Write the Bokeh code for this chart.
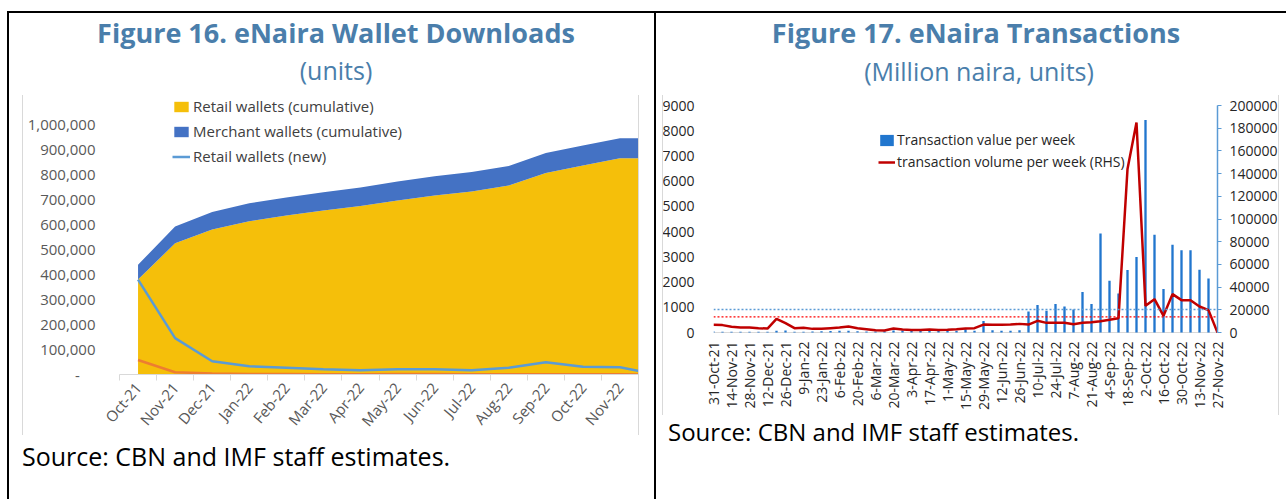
from bokeh.plotting import figure
from bokeh.models import (Range1d, LinearAxis, FixedTicker, Legend, LegendItem,
                          Span, Div, ColumnDataSource, NumeralTickFormatter)
from bokeh.layouts import row, column
from bokeh.embed import file_html
from bokeh.resources import INLINE

FONT = "Open Sans"
TITLE_BLUE = "#4A7EAB"

# ---------------- Figure 16 data (monthly, units) ----------------
months = ["Oct-21", "Nov-21", "Dec-21", "Jan-22", "Feb-22", "Mar-22", "Apr-22",
          "May-22", "Jun-22", "Jul-22", "Aug-22", "Sep-22", "Oct-22", "Nov-22", "Dec-22"]
shown_months = 14
retail_cum = [378000, 523000, 578000, 611000, 633000, 653000, 671000,
              693000, 713000, 729000, 753000, 803000, 833000, 862000, 862000]
merchant_cum = [59000, 67000, 69000, 71000, 72000, 73000, 74000,
                76000, 77000, 78000, 78000, 79000, 79000, 79000, 79000]
retail_new = [378000, 145000, 53000, 33000, 27000, 21000, 17000,
              21000, 21000, 17000, 27000, 49000, 31000, 29000, 0]
merchant_new = [58000, 9000, 4000, 2000, 1500, 1000, 1000,
                1500, 1500, 1000, 1000, 1000, 1000, 1000, 0]
left_yticks = [0, 100000, 200000, 300000, 400000, 500000, 600000,
               700000, 800000, 900000, 1000000]
left_ylabels = ["-", "100,000", "200,000", "300,000", "400,000", "500,000",
                "600,000", "700,000", "800,000", "900,000", "1,000,000"]

# ---------------- Figure 17 data (weekly) ----------------
weeks = ["31-Oct-21", "7-Nov-21", "14-Nov-21", "21-Nov-21", "28-Nov-21", "5-Dec-21",
         "12-Dec-21", "19-Dec-21", "26-Dec-21", "2-Jan-22", "9-Jan-22", "16-Jan-22",
         "23-Jan-22", "30-Jan-22", "6-Feb-22", "13-Feb-22", "20-Feb-22", "27-Feb-22",
         "6-Mar-22", "13-Mar-22", "20-Mar-22", "27-Mar-22", "3-Apr-22", "10-Apr-22",
         "17-Apr-22", "24-Apr-22", "1-May-22", "8-May-22", "15-May-22", "22-May-22",
         "29-May-22", "5-Jun-22", "12-Jun-22", "19-Jun-22", "26-Jun-22", "3-Jul-22",
         "10-Jul-22", "17-Jul-22", "24-Jul-22", "31-Jul-22", "7-Aug-22", "14-Aug-22",
         "21-Aug-22", "28-Aug-22", "4-Sep-22", "11-Sep-22", "18-Sep-22", "25-Sep-22",
         "2-Oct-22", "9-Oct-22", "16-Oct-22", "23-Oct-22", "30-Oct-22", "6-Nov-22",
         "13-Nov-22", "20-Nov-22", "27-Nov-22"]
tx_value = [40, 25, 25, 25, 25, 25, 25, 70, 80, 30, 30, 40, 50, 60, 70, 70, 50, 40,
            40, 50, 80, 80, 70, 70, 80, 90, 70, 70, 130, 70, 460, 90, 70, 70, 90, 830,
            1090, 860, 1130, 1030, 910, 1610, 1130, 3930, 2050, 1550, 2480, 2990, 8430,
            3880, 1720, 3480, 3260, 3260, 2490, 2140, 0]
tx_volume = [6750, 6500, 5000, 4400, 4400, 3800, 3500, 12000, 8200, 3800, 4100, 3200,
             3200, 3800, 4400, 5300, 3800, 2900, 2000, 1800, 3500, 2600, 2300, 2300,
             2600, 2300, 2400, 2900, 3500, 3800, 7000, 6800, 6800, 7000, 7600, 7000,
             10300, 8500, 8500, 8500, 7300, 8500, 9100, 10000, 11200, 12600, 144000,
             185000, 23500, 29400, 14700, 33800, 28500, 28500, 22900, 19700, 0]
avg_value = 915
avg_volume = 13800
right_lticks = [0, 1000, 2000, 3000, 4000, 5000, 6000, 7000, 8000, 9000]
right_rticks = [0, 20000, 40000, 60000, 80000, 100000, 120000, 140000, 160000,
                180000, 200000]

# ---------------- page geometry (screen px) ----------------
FIG_TOP, FIG_H = 86, 384
FRAME_TOP, FRAME_BOT = 88, 374          # shared frame rows of both figures
LCOL_X, LCOL_W = 9, 645
RCOL_X, RCOL_W = 656, 630
GRID_GRAY = "#D9D9D9"


def text_div(width, height, items, lines=(), margin=0):
    parts = []
    for txt, x, cy, size, weight, color, align in items:
        lh = int(size * 1.4)
        top = cy - lh / 2
        if align == "center":
            pos = f"left:{x - 400}px;width:800px;text-align:center;"
        else:
            pos = f"left:{x}px;text-align:left;"
        parts.append(f'<div style="position:absolute;{pos}top:{top}px;line-height:{lh}px;'
                     f'font-size:{size}px;font-weight:{weight};color:{color};'
                     f'white-space:nowrap;font-family:\'{FONT}\';">{txt}</div>')
    for lx, ltop, lh in lines:
        parts.append(f'<div style="position:absolute;left:{lx}px;top:{ltop}px;width:1px;'
                     f'height:{lh}px;background:{GRID_GRAY};"></div>')
    html = (f'<div style="position:relative;width:{width}px;height:{height}px;overflow:visible;">'
            + "".join(parts) + "</div>")
    return Div(text=html, width=width, height=height, margin=margin,
               styles={"overflow": "visible"})


# ================= Left figure =================
L_FRAME_L, L_FRAME_R = 119, 638
L_Y0, L_Y1M = 374, 123                  # px of 0 and of 1,000,000
l_ppu = (L_Y0 - L_Y1M) / 1000000
p1 = figure(width=LCOL_W, height=FIG_H, output_backend="svg", toolbar_location=None,
            x_range=Range1d(-0.5, shown_months - 0.5),
            y_range=Range1d(-(FRAME_BOT - L_Y0) / l_ppu, (L_Y0 - FRAME_TOP) / l_ppu),
            min_border_left=L_FRAME_L - LCOL_X,
            min_border_right=LCOL_X + LCOL_W - L_FRAME_R,
            min_border_top=FRAME_TOP - FIG_TOP,
            min_border_bottom=FIG_TOP + FIG_H - FRAME_BOT)
p1.outline_line_color = None
p1.grid.visible = False

idx1 = list(range(len(months)))
src1 = ColumnDataSource(dict(x=idx1, retail=retail_cum, merchant=merchant_cum))
areas = p1.varea_stack(stackers=["retail", "merchant"], x="x",
                       color=["#F5BF0A", "#4472C4"], source=src1)
ln_new = p1.line(idx1, retail_new, line_color="#5B9BD5", line_width=2.5)
p1.line(idx1, merchant_new, line_color="#ED7D31", line_width=2.5)

yax = p1.yaxis[0]
yax.ticker = FixedTicker(ticks=left_yticks)
yax.major_label_overrides = {t: (lab if t else lab + "\u00a0\u00a0\u00a0\u00a0")
                             for t, lab in zip(left_yticks, left_ylabels)}
yax.axis_line_color = None
yax.major_tick_line_color = None
yax.minor_tick_line_color = None
yax.major_label_standoff = 18
yax.major_label_text_font = FONT
yax.major_label_text_font_size = "15px"
yax.major_label_text_color = "#595959"

xax = p1.xaxis[0]
xax.ticker = FixedTicker(ticks=idx1[:shown_months],
                         minor_ticks=[i - 0.5 for i in range(shown_months + 1)])
xax.major_label_overrides = {i: months[i] for i in range(shown_months)}
xax.major_label_orientation = 0.87
xax.axis_line_color = GRID_GRAY
xax.major_tick_line_color = None
xax.minor_tick_line_color = GRID_GRAY
xax.minor_tick_out = 6
xax.minor_tick_in = 0
xax.major_label_standoff = 4
xax.major_label_text_font = FONT
xax.major_label_text_font_size = "15px"
xax.major_label_text_color = "#595959"

leg1 = Legend(items=[LegendItem(label="Retail wallets (cumulative)", renderers=[areas[0]]),
                     LegendItem(label="Merchant wallets (cumulative)", renderers=[areas[1]]),
                     LegendItem(label="Retail wallets (new)", renderers=[ln_new])],
              location=(172 - L_FRAME_L, FRAME_BOT - 166), glyph_width=18,
              glyph_height=13, label_standoff=3, label_height=20, spacing=5,
              padding=0, margin=0, label_text_font=FONT, label_text_font_size="15px",
              label_text_color="#404040", border_line_color=None,
              background_fill_alpha=0)
p1.add_layout(leg1)

# ================= Right figure =================
R_FRAME_L, R_FRAME_R = 713, 1217
R_Y0, R_YTOP = 332, 105                  # px of 0 and of the axis tops
r_ppu = (R_Y0 - R_YTOP) / right_lticks[-1]
v_ppu = (R_Y0 - R_YTOP) / right_rticks[-1]
idx2 = list(range(len(weeks)))
p2 = figure(width=RCOL_W, height=FIG_H, output_backend="svg", toolbar_location=None,
            x_range=Range1d(idx2[0], idx2[-1]),
            y_range=Range1d(-(FRAME_BOT - R_Y0) / r_ppu, (R_Y0 - FRAME_TOP) / r_ppu),
            min_border_left=R_FRAME_L - RCOL_X,
            min_border_right=RCOL_X + RCOL_W - R_FRAME_R,
            min_border_top=FRAME_TOP - FIG_TOP,
            min_border_bottom=FIG_TOP + FIG_H - FRAME_BOT)
p2.outline_line_color = None
p2.grid.visible = False
p2.extra_y_ranges = {"vol": Range1d(-(FRAME_BOT - R_Y0) / v_ppu,
                                    (R_Y0 - FRAME_TOP) / v_ppu)}

p2.add_layout(Span(location=0, dimension="width", line_color=GRID_GRAY, line_width=1,
                   level="underlay"))
p2.add_layout(Span(location=avg_value, dimension="width", line_color="#5B9BD5",
                   line_width=1.5, line_dash="2 2"))
p2.add_layout(Span(location=avg_volume, dimension="width", line_color="#FF0000",
                   line_width=1.2, line_dash="2 2", y_range_name="vol"))
bars = p2.vbar(x=idx2, top=tx_value, width=0.26, fill_color="#2176CE",
               line_color=None)
vol = p2.line(idx2, tx_volume, line_color="#C00000", line_width=2.5, y_range_name="vol")

ly = p2.yaxis[0]
ly.ticker = FixedTicker(ticks=right_lticks)
ly.formatter = NumeralTickFormatter(format="0")
ly.axis_line_color = None
ly.major_tick_line_color = None
ly.minor_tick_line_color = None
ly.major_label_standoff = 13
ly.major_label_text_font = FONT
ly.major_label_text_font_size = "14px"
ly.major_label_text_color = "#262626"

ry = LinearAxis(y_range_name="vol", ticker=FixedTicker(ticks=right_rticks),
                formatter=NumeralTickFormatter(format="0"),
                bounds=(right_rticks[0], right_rticks[-1]))
ry.axis_line_color = "#5B9BD5"
ry.axis_line_width = 1.5
ry.major_tick_line_color = "#5B9BD5"
ry.major_tick_in = 0
ry.major_tick_out = 4
ry.minor_tick_line_color = None
ry.major_label_standoff = 8
ry.major_label_text_font = FONT
ry.major_label_text_font_size = "14px"
ry.major_label_text_color = "#262626"
p2.add_layout(ry, "right")

bx = p2.xaxis[0]
bx.ticker = FixedTicker(ticks=idx2[::2])
bx.major_label_overrides = {i: weeks[i] for i in idx2[::2]}
bx.major_label_orientation = 1.5708
bx.axis_line_color = None
bx.major_tick_line_color = None
bx.minor_tick_line_color = None
bx.major_label_standoff = (R_Y0 + 3) - FRAME_BOT     # labels start just under y = 0
bx.major_label_text_font = FONT
bx.major_label_text_font_size = "14px"
bx.major_label_text_color = "#262626"

leg2 = Legend(items=[LegendItem(label="Transaction value per week", renderers=[bars]),
                     LegendItem(label="transaction volume per week (RHS)", renderers=[vol])],
              location=(878 - R_FRAME_L, FRAME_BOT - 171), glyph_width=17,
              glyph_height=14, label_standoff=2, label_height=18, spacing=3,
              padding=0, margin=0, label_text_font=FONT, label_text_font_size="14px",
              label_text_color="#262626", border_line_color=None,
              background_fill_alpha=0)
p2.add_layout(leg2)

# ================= titles, sources and panel borders =================
TITLE_H = FIG_TOP - 13
t1 = text_div(LCOL_W, TITLE_H, [
    ("Figure 16. eNaira Wallet Downloads", 336 - LCOL_X, 32 - 13, 27, "bold", TITLE_BLUE, "center"),
    ("(units)", 336 - LCOL_X, 70 - 13, 25, "normal", TITLE_BLUE, "center")])
t2 = text_div(RCOL_W, TITLE_H, [
    ("Figure 17. eNaira Transactions", 976 - RCOL_X, 32 - 13, 27, "bold", TITLE_BLUE, "center"),
    ("(Million naira, units)", 979 - RCOL_X, 71 - 13, 25, "normal", TITLE_BLUE, "center")])
SRC_H = 36
s1_top, s2_top = 456 - SRC_H // 2, 431 - SRC_H // 2
s1 = text_div(LCOL_W, SRC_H, [("Source: CBN and IMF staff estimates.", 22 - LCOL_X,
                               SRC_H // 2, 25, "normal", "#000000", "left")],
              lines=[(22 - LCOL_X, 95 - s1_top, 435 - 95),
                     (L_FRAME_R - LCOL_X, 95 - s1_top, 435 - 95)],
              margin=(s1_top - (FIG_TOP + FIG_H), 0, 0, 0))
s2 = text_div(RCOL_W, SRC_H, [("Source: CBN and IMF staff estimates.", 668 - RCOL_X,
                               SRC_H // 2, 24, "normal", "#000000", "left")],
              lines=[(662 - RCOL_X, 95 - s2_top, 415 - 95),
                     (1278 - RCOL_X, 95 - s2_top, 415 - 95)],
              margin=(s2_top - (FIG_TOP + FIG_H), 0, 0, 0))

BLACK = {"background-color": "black"}
VH = 486
gap_top = Div(width=1286, height=11, margin=0)
gap_left = Div(width=7, height=VH + 2, margin=0)
hline = Div(width=RCOL_X + RCOL_W - 7, height=2, margin=0, styles=BLACK)
v1 = Div(width=2, height=VH, margin=0, styles=BLACK)
v2 = Div(width=2, height=VH, margin=0, styles=BLACK)
left_col = column(t1, p1, s1, spacing=0)
right_col = column(t2, p2, s2, spacing=0)
page = column(gap_top,
              row(gap_left, column(hline, row(v1, left_col, v2, right_col, spacing=0),
                                   spacing=0), spacing=0),
              spacing=0)

open("out.html", "w").write(file_html(page, INLINE))
